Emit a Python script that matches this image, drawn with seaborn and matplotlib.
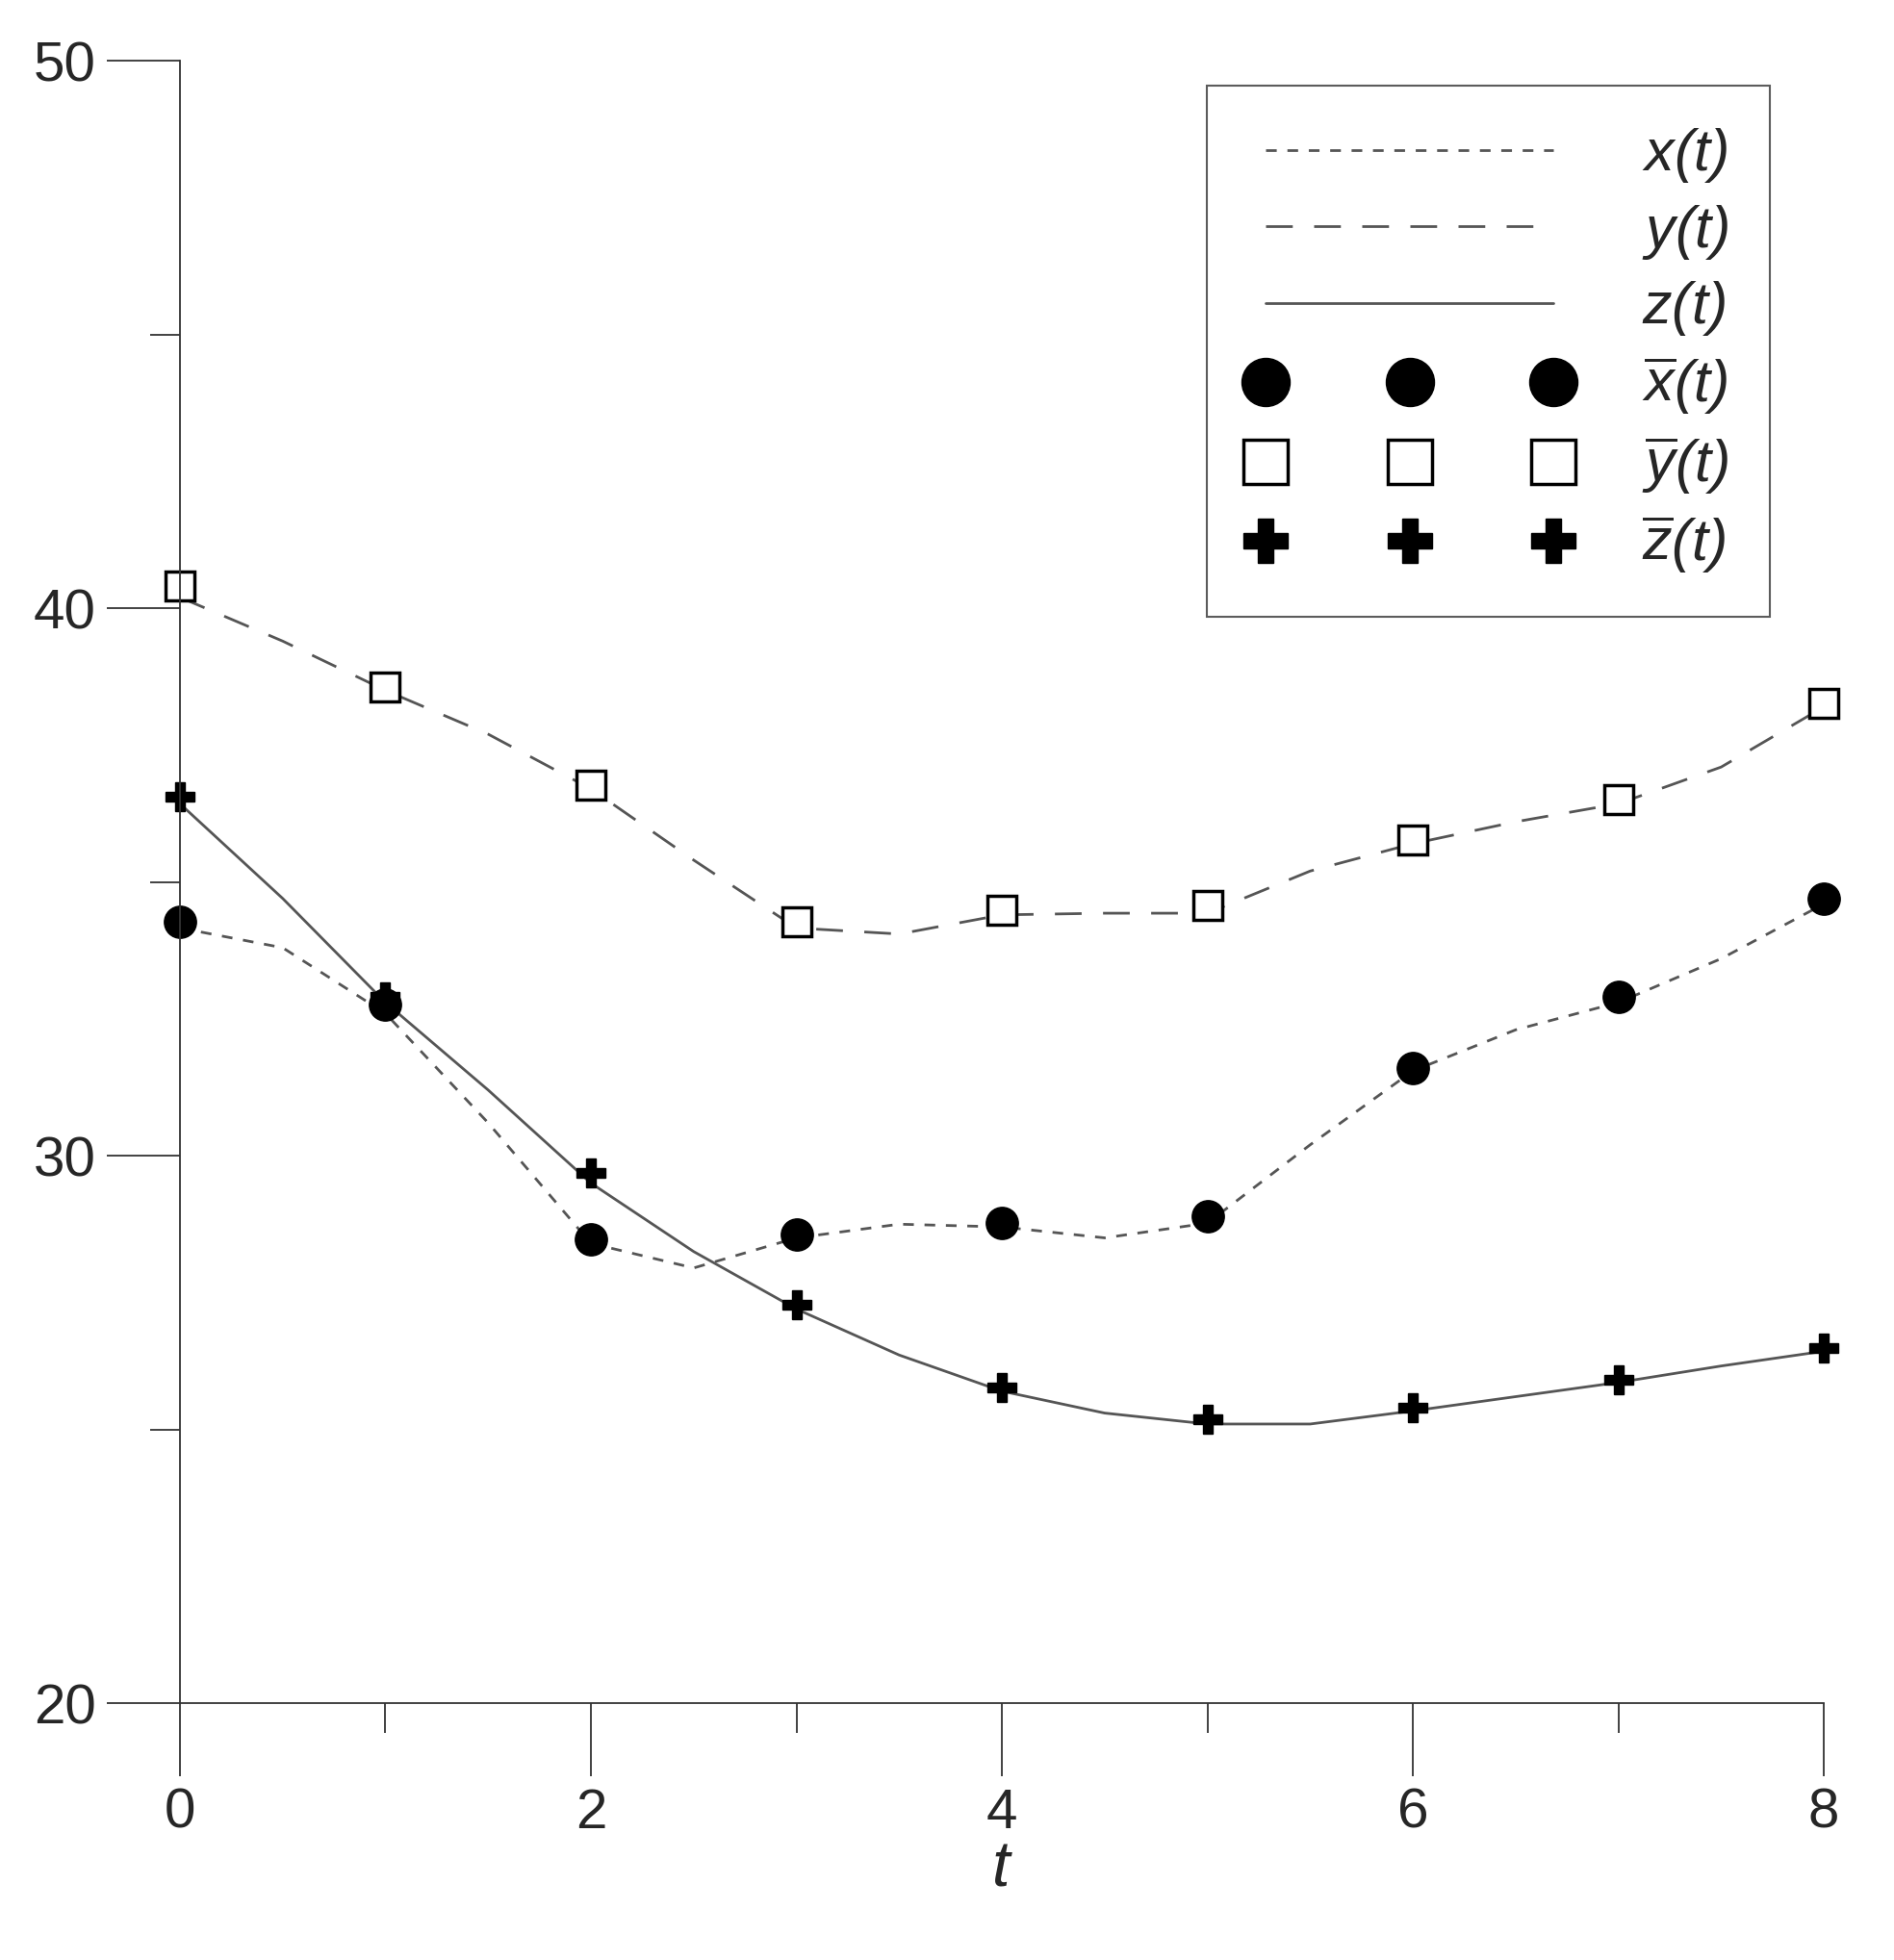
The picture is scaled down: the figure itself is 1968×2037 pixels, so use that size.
import numpy as np
import pandas as pd
import matplotlib
matplotlib.use("Agg")
import matplotlib.pyplot as plt
import seaborn as sns
from matplotlib.ticker import MultipleLocator

# measured points
t_pts = [0, 1, 2, 3, 4, 5, 6, 7, 8]
x_bar = [34.27, 32.77, 28.48, 28.57, 28.77, 28.9, 31.6, 32.9, 34.7]
y_bar = [40.4, 38.57, 36.77, 34.27, 34.48, 34.57, 35.77, 36.5, 38.27]
z_bar = [36.55, 32.9, 29.68, 27.27, 25.77, 25.18, 25.4, 25.9, 26.48]

# model curves read at half steps
t_line = [0, 0.5, 1, 1.5, 2, 2.5, 3, 3.5, 4, 4.5, 5, 5.5, 6, 6.5, 7, 7.5, 8]
x_line = [34.16, 33.8, 32.6, 30.6, 28.4, 27.95, 28.5, 28.75, 28.7, 28.5, 28.77, 30.2, 31.55, 32.3, 32.8, 33.6, 34.6]
y_line = [40.2, 39.4, 38.5, 37.7, 36.7, 35.4, 34.16, 34.05, 34.4, 34.43, 34.43, 35.2, 35.7, 36.1, 36.43, 37.1, 38.2]
z_line = [36.43, 34.7, 32.8, 31.2, 29.5, 28.25, 27.2, 26.36, 25.7, 25.3, 25.1, 25.1, 25.34, 25.6, 25.86, 26.16, 26.43]

sns.set_style("white")
plt.rcParams['font.family'] = ['Liberation Sans', 'DejaVu Sans']
plt.rcParams['mathtext.fontset'] = 'custom'
plt.rcParams['mathtext.it'] = 'Liberation Sans:italic'
plt.rcParams['mathtext.rm'] = 'Liberation Sans:italic'

fig = plt.figure(figsize=(19.68, 20.37), dpi=100)
ax = fig.add_axes([0.095, 0.131, 0.868, 0.838])

lc = '#555555'
sns.lineplot(x=t_line, y=x_line, ax=ax, color=lc, lw=2, linestyle=(0, (4, 4)), label='$x(t)$')
sns.lineplot(x=t_line, y=y_line, ax=ax, color=lc, lw=2, linestyle=(0, (10, 8)), label='$y(t)$')
sns.lineplot(x=t_line, y=z_line, ax=ax, color=lc, lw=2, label='$z(t)$')
ax.plot(t_pts, x_bar, 'o', color='black', ms=24, ls='none', label=r'$\overline{x}(t)$', clip_on=False)
ax.plot(t_pts, y_bar, 's', mfc='white', mec='black', mew=2.5, ms=22, ls='none', label=r'$\overline{y}(t)$', clip_on=False)
ax.plot(t_pts, z_bar, 'P', color='black', ms=22, ls='none', label=r'$\overline{z}(t)$', clip_on=False)

ax.set_xlim(0, 8)
ax.set_ylim(20, 50)
ax.set_xticks([0, 2, 4, 6, 8])
ax.xaxis.set_minor_locator(MultipleLocator(1))
ax.set_yticks([20, 30, 40, 50])
ax.yaxis.set_minor_locator(MultipleLocator(5))
ax.tick_params(axis='both', which='both', direction='out', bottom=True, left=True,
               length=55, width=1.3, labelsize=42, color='#333333')
ax.tick_params(axis='both', which='minor', length=22)
ax.tick_params(axis='x', which='major', pad=8)
ax.tick_params(axis='y', which='major', pad=8)
for s in ['top', 'right']:
    ax.spines[s].set_visible(False)
for s in ['left', 'bottom']:
    ax.spines[s].set_linewidth(1.3)
    ax.spines[s].set_color('#333333')
ax.set_xlabel('$t$', fontsize=48, labelpad=0)
ax.set_ylabel('')

leg = ax.legend(loc='upper right', bbox_to_anchor=(0.985, 1.003), numpoints=3, handlelength=5.5,
                fontsize=44, frameon=True, fancybox=False, edgecolor='#333333', markerscale=1.5,
                labelspacing=0.3, borderpad=0.7, handletextpad=1.2)
leg.get_frame().set_linewidth(1.5)

fig.savefig('out.png', dpi=100)
